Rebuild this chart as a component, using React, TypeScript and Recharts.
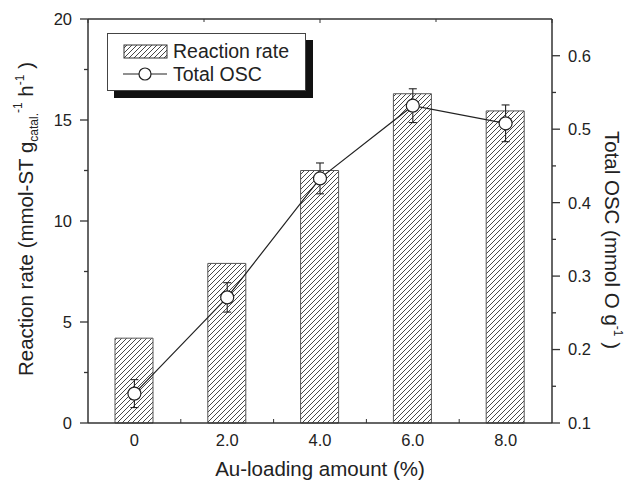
import React from "react";
import {
  ComposedChart,
  Bar,
  Line,
  XAxis,
  YAxis,
  ErrorBar,
  Label,
} from "recharts";

// Au loading (%) and measured values
const loading = [0, 2, 4, 6, 8];
const reactionRate = [4.2, 7.9, 12.5, 16.3, 15.45];
const totalOsc = [0.14, 0.271, 0.433, 0.532, 0.508];
const oscError = [0.019, 0.02, 0.021, 0.023, 0.025];

const xTicks = [0, 1, 2, 3, 4, 5, 6, 7, 8];
const leftTicks = [0, 2.5, 5, 7.5, 10, 12.5, 15, 17.5, 20];
const rightTicks = [0.1, 0.15, 0.2, 0.25, 0.3, 0.35, 0.4, 0.45, 0.5, 0.55, 0.6];

const data = loading.map((x, i) => ({
  x,
  rate: reactionRate[i],
  osc: totalOsc[i],
  oscErr: oscError[i],
}));

const FONT = "'Liberation Sans', Arial, Helvetica, sans-serif";
const AXIS = "#333";
const TEXT = "#222";
const TICK_FS = 16.5;
const LABEL_FS = 20.5;

const LeftTick = (props: any) => {
  const { x, y, payload } = props;
  const v = payload.value;
  const major = v % 5 === 0;
  return (
    <g>
      <line x1={x - (major ? 8 : 4)} x2={x} y1={y} y2={y} stroke={AXIS} strokeWidth={1.3} />
      {major && (
        <text x={x - 16} y={y} dy="0.36em" textAnchor="end" fontSize={TICK_FS} fill={TEXT} fontFamily={FONT}>
          {v}
        </text>
      )}
    </g>
  );
};

const RightTick = (props: any) => {
  const { x, y, payload } = props;
  const v = payload.value;
  const major = Math.round(v * 100) % 10 === 0;
  return (
    <g>
      <line x1={x} x2={x + (major ? 8 : 4)} y1={y} y2={y} stroke={AXIS} strokeWidth={1.3} />
      {major && (
        <text x={x + 16} y={y} dy="0.36em" textAnchor="start" fontSize={TICK_FS} fill={TEXT} fontFamily={FONT}>
          {v.toFixed(1)}
        </text>
      )}
    </g>
  );
};

const BottomTick = (props: any) => {
  const { x, y, payload } = props;
  const v = payload.value;
  const major = v % 2 === 0;
  return (
    <g>
      {!major && <line x1={x} x2={x} y1={y} y2={y - 4} stroke={AXIS} strokeWidth={1} />}
      {major && (
        <text x={x} y={y + 17} dy="0.36em" textAnchor="middle" fontSize={TICK_FS} fill={TEXT} fontFamily={FONT}>
          {v === 0 ? "0" : v.toFixed(1)}
        </text>
      )}
    </g>
  );
};

const TopTick = (props: any) => {
  const { x, y, payload } = props;
  const major = payload.value % 2 === 0;
  return <line x1={x} x2={x} y1={y} y2={y + (major ? 4 : 3)} stroke={AXIS} strokeWidth={1} />;
};

const LeftLabel = (props: any) => {
  const { x, y, height } = props.viewBox;
  const cx = x + 5;
  const cy = y + height / 2 - 2;
  return (
    <text
      x={cx}
      y={cy}
      transform={`rotate(-90 ${cx} ${cy})`}
      textAnchor="middle"
      fontSize={LABEL_FS}
      fill={TEXT}
      fontFamily={FONT}
    >
      Reaction rate (mmol-ST g
      <tspan fontSize={12} dy={5}>catal.</tspan>
      <tspan fontSize={12} dy={-16}>-1</tspan>
      <tspan fontSize={LABEL_FS} dy={11}> h</tspan>
      <tspan fontSize={12} dy={-9}>-1</tspan>
      <tspan fontSize={LABEL_FS} dy={9}> )</tspan>
    </text>
  );
};

const RightLabel = (props: any) => {
  const { x, y, height } = props.viewBox;
  const cx = x + 53;
  const cy = y + height / 2 + 19;
  return (
    <text
      x={cx}
      y={cy}
      transform={`rotate(90 ${cx} ${cy})`}
      textAnchor="middle"
      fontSize={LABEL_FS}
      fill={TEXT}
      fontFamily={FONT}
    >
      Total OSC (mmol O g
      <tspan fontSize={12} dy={-9}>-1</tspan>
      <tspan fontSize={LABEL_FS} dy={9}> )</tspan>
    </text>
  );
};

const Hatch = ({ id }: { id: string }) => (
  <pattern id={id} patternUnits="userSpaceOnUse" width={5} height={5}>
    <path d="M-1,1 L1,-1 M0,5 L5,0 M4,6 L6,4" stroke="#333" strokeWidth={0.9} />
  </pattern>
);

const LegendBox = () => (
  <div
    style={{
      position: "absolute",
      left: 107,
      top: 33,
      width: 197,
      height: 56,
      border: "1px solid #444",
      background: "#fff",
      boxShadow: "7px 7px 0 #111",
    }}
  >
    <svg width={197} height={56} style={{ position: "absolute", left: 0, top: 0 }}>
      <defs>
        <Hatch id="legendHatch" />
      </defs>
      <rect x={16} y={11} width={43} height={13} fill="url(#legendHatch)" stroke="#333" strokeWidth={1} />
      <text x={65} y={24} fontSize={19.5} fill={TEXT} fontFamily={FONT}>
        Reaction rate
      </text>
      <line x1={15} x2={59} y1={40} y2={40} stroke="#222" strokeWidth={1.2} />
      <circle cx={37} cy={40} r={6} fill="#fff" stroke="#222" strokeWidth={1.2} />
      <text x={65} y={47} fontSize={19.5} fill={TEXT} fontFamily={FONT}>
        Total OSC
      </text>
    </svg>
  </div>
);

export default function App() {
  return (
    <div style={{ position: "absolute", left: 0, top: 0, width: 625, height: 484, background: "#fff" }}>
      <ComposedChart
        width={625}
        height={484}
        data={data}
        margin={{ top: 9, right: 13, bottom: 31, left: 28 }}
      >
        <defs>
          <Hatch id="barHatch" />
        </defs>
        <XAxis
          dataKey="x"
          type="number"
          domain={[-1, 9]}
          ticks={xTicks}
          interval={0}
          height={30}
          tickSize={0}
          tickMargin={0}
          tickLine={false}
          tick={BottomTick}
          axisLine={{ stroke: AXIS, strokeWidth: 1.5 }}
        >
          <Label
            content={(p: any) => (
              <text
                x={p.viewBox.x + p.viewBox.width / 2}
                y={p.viewBox.y + 53}
                textAnchor="middle"
                fontSize={LABEL_FS}
                fill={TEXT}
                fontFamily={FONT}
              >
                Au-loading amount (%)
              </text>
            )}
          />
        </XAxis>
        <XAxis
          xAxisId="top"
          orientation="top"
          type="number"
          domain={[-1, 9]}
          ticks={xTicks}
          interval={0}
          height={10}
          tickSize={0}
          tickMargin={0}
          tickLine={false}
          tick={TopTick}
          axisLine={{ stroke: AXIS, strokeWidth: 1.5 }}
        />
        <YAxis
          yAxisId="left"
          domain={[0, 20]}
          ticks={leftTicks}
          interval={0}
          width={60}
          tickSize={0}
          tickMargin={0}
          tickLine={false}
          tick={LeftTick}
          axisLine={{ stroke: AXIS, strokeWidth: 1.5 }}
        >
          <Label content={LeftLabel} />
        </YAxis>
        <YAxis
          yAxisId="right"
          orientation="right"
          domain={[0.1, 0.65]}
          ticks={rightTicks}
          interval={0}
          width={60}
          tickSize={0}
          tickMargin={0}
          tickLine={false}
          tick={RightTick}
          axisLine={{ stroke: AXIS, strokeWidth: 1.5 }}
        >
          <Label content={RightLabel} />
        </YAxis>
        <Bar
          yAxisId="left"
          dataKey="rate"
          barSize={38}
          fill="url(#barHatch)"
          stroke="#555"
          strokeWidth={1}
          isAnimationActive={false}
        />
        <Line
          yAxisId="right"
          dataKey="osc"
          stroke="#222"
          strokeWidth={1.2}
          dot={{ r: 6.5, fill: "#fff", stroke: "#222", strokeWidth: 1.2 }}
          isAnimationActive={false}
        >
          <ErrorBar dataKey="oscErr" width={4} stroke="#222" strokeWidth={1.1} direction="y" />
        </Line>
      </ComposedChart>
      <LegendBox />
    </div>
  );
}
